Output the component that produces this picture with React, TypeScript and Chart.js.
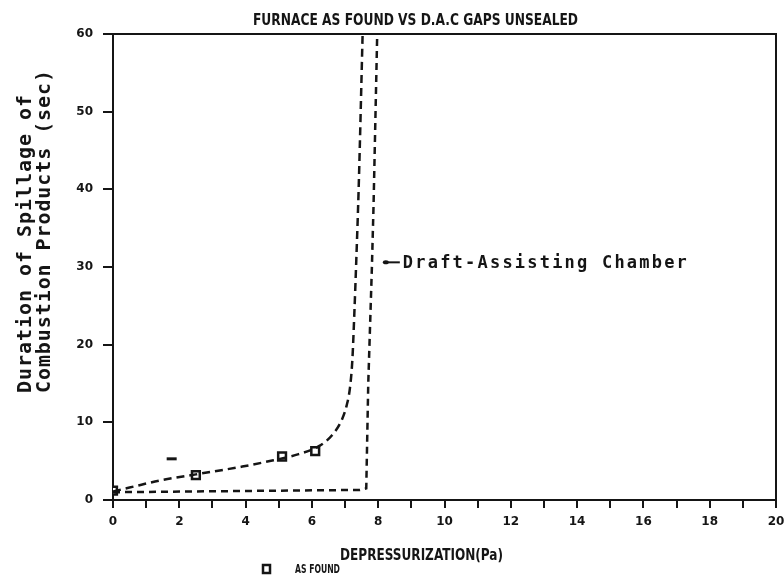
import React, { useEffect, useRef } from "react";
import { Chart, registerables } from "chart.js";

Chart.register(...registerables);

// ---- Text ----
const chartTitle = "FURNACE AS FOUND VS D.A.C GAPS UNSEALED";
const xAxisTitle = "DEPRESSURIZATION(Pa)";
const yAxisTitleLines = ["Duration of Spillage of", "Combustion Products (sec)"];
const legendLabel = "AS FOUND";
const annotationText = "Draft-Assisting Chamber";

// ---- Axes ----
const xMin = 0;
const xMax = 20;
const xStep = 1;
const xLabelEvery = 2;
const yMin = 0;
const yMax = 60;
const yStep = 10;

// ---- Data ----
// measured "as found" points
const asFoundX = [0, 2.5, 5.1, 6.1];
const asFoundY = [1.2, 3.2, 5.6, 6.3];

// dashed curve through the as-found points
const fitX = [0, 0.5, 1.4, 2.5, 3.9, 4.6, 5.6, 6.2, 6.6, 6.9, 7.05, 7.15, 7.22, 7.28, 7.34, 7.41, 7.53];
const fitY = [1.1, 1.6, 2.5, 3.3, 4.3, 4.9, 5.9, 6.9, 8.3, 10.3, 12.2, 14.5, 18, 24, 31, 40, 60];

// draft-assisting chamber (gaps unsealed) dashed line
const dacX = [0, 7.45, 7.64, 7.7, 7.81, 7.86, 7.97];
const dacY = [1.0, 1.3, 1.5, 15, 30, 38, 60];

// stray pen mark
const strayX = [1.77];
const strayY = [5.3];

// annotation anchor (data units)
const annotationX = [8.2];
const annotationY = [30.6];

const INK = "#151515";

function zip(xs: number[], ys: number[]) {
  return xs.map((x, i) => ({ x, y: ys[i] }));
}

function drawFitted(ctx: CanvasRenderingContext2D, text: string, x: number, y: number, width: number, font: string) {
  ctx.save();
  ctx.font = font;
  ctx.textAlign = "left";
  ctx.textBaseline = "alphabetic";
  const w = ctx.measureText(text).width;
  ctx.translate(x, y);
  ctx.scale(width / w, 1);
  ctx.fillText(text, 0, 0);
  ctx.restore();
}

function drawSpaced(ctx: CanvasRenderingContext2D, text: string, x: number, y: number, width: number, font: string) {
  ctx.save();
  ctx.font = font;
  ctx.textAlign = "left";
  ctx.textBaseline = "alphabetic";
  const chars = Array.from(text);
  const lastW = ctx.measureText(chars[chars.length - 1]).width;
  const adv = (width - lastW) / (chars.length - 1);
  chars.forEach((c, i) => ctx.fillText(c, x + i * adv, y));
  ctx.restore();
}

const decorPlugin = {
  id: "decor",
  afterDraw(chart: any) {
    const { ctx, chartArea, scales } = chart;
    const xs = scales.x;
    const ys = scales.y;
    ctx.save();
    ctx.strokeStyle = INK;
    ctx.fillStyle = INK;
    ctx.lineWidth = 2;
    ctx.setLineDash([]);
    // top and right frame
    ctx.beginPath();
    ctx.moveTo(chartArea.left, chartArea.top);
    ctx.lineTo(chartArea.right, chartArea.top);
    ctx.lineTo(chartArea.right, chartArea.bottom);
    ctx.stroke();

    const narrow = "'Liberation Sans Narrow', 'DejaVu Sans Condensed', sans-serif";
    // title
    drawFitted(ctx, chartTitle, 253, 25, 325, "bold 15px " + narrow);
    // x axis title
    drawFitted(ctx, xAxisTitle, 340, 560, 163, "bold 16px " + narrow);

    // legend
    ctx.lineWidth = 2.5;
    ctx.strokeRect(263, 565, 7, 8);
    drawFitted(ctx, legendLabel, 295, 573, 45, "bold 12px " + narrow);

    // y axis title (rotated)
    const yFont = "bold 20px 'DejaVu Sans Mono', 'Liberation Mono', monospace";
    const lineX = [31, 50];
    const lineW = [298, 323];
    yAxisTitleLines.forEach((t, i) => {
      ctx.save();
      ctx.translate(lineX[i], 393);
      ctx.rotate(-Math.PI / 2);
      drawSpaced(ctx, t, 0, 0, lineW[i], yFont);
      ctx.restore();
    });

    // annotation
    annotationX.forEach((ax, i) => {
      const px = xs.getPixelForValue(ax);
      const py = ys.getPixelForValue(annotationY[i]);
      ctx.beginPath();
      ctx.ellipse(px + 1, py, 3, 2, 0, 0, Math.PI * 2);
      ctx.fill();
      ctx.lineWidth = 2;
      ctx.beginPath();
      ctx.moveTo(px, py);
      ctx.lineTo(px + 15, py);
      ctx.stroke();
      drawSpaced(ctx, annotationText, px + 18, py + 6, 284, "bold 17px 'DejaVu Sans Mono', 'Liberation Mono', monospace");
    });
    ctx.restore();
  },
};

export default function App() {
  const ref = useRef<HTMLCanvasElement | null>(null);

  useEffect(() => {
    const canvas = ref.current;
    if (!canvas) return;
    const chart = new Chart(canvas, {
      type: "scatter",
      data: {
        datasets: [
          {
            label: "fit",
            data: zip(fitX, fitY),
            showLine: true,
            borderColor: INK,
            borderWidth: 2.5,
            borderDash: [8, 5],
            pointRadius: 0,
            cubicInterpolationMode: "monotone",
            fill: false,
          },
          {
            label: "dac",
            data: zip(dacX, dacY),
            showLine: true,
            borderColor: INK,
            borderWidth: 2.5,
            borderDash: [7, 5],
            pointRadius: 0,
            tension: 0,
            fill: false,
          },
          {
            label: legendLabel,
            data: zip(asFoundX, asFoundY),
            showLine: false,
            pointStyle: "rect",
            pointRadius: 5.5,
            pointBorderWidth: 2.5,
            pointBorderColor: INK,
            pointBackgroundColor: "#ffffff",
          },
          {
            label: "stray",
            data: zip(strayX, strayY),
            showLine: false,
            pointStyle: "line",
            pointRadius: 5,
            pointBorderWidth: 3,
            pointBorderColor: INK,
          },
        ],
      } as any,
      options: {
        animation: false,
        responsive: false,
        maintainAspectRatio: false,
        devicePixelRatio: 1,
        layout: { padding: { left: 0, top: 34, right: 7, bottom: 0 } },
        plugins: {
          legend: { display: false },
          tooltip: { enabled: false },
          title: { display: false },
        },
        scales: {
          x: {
            type: "linear",
            min: xMin,
            max: xMax,
            afterFit: (s: any) => {
              s.height = 78;
              s.paddingLeft = 0;
              s.paddingRight = 0;
            },
            ticks: {
              stepSize: xStep,
              autoSkip: false,
              maxRotation: 0,
              padding: 7,
              color: INK,
              font: { family: "'DejaVu Sans', sans-serif", size: 12, weight: "bold" },
              callback: (v: any) => (Number(v) % xLabelEvery === 0 ? String(v) : ""),
            },
            grid: {
              display: true,
              drawOnChartArea: false,
              drawTicks: true,
              tickLength: 8,
              color: INK,
              lineWidth: 2,
            },
            border: { display: true, color: INK, width: 2 },
          },
          y: {
            type: "linear",
            min: yMin,
            max: yMax,
            afterFit: (s: any) => {
              s.width = 113;
              s.paddingTop = 0;
              s.paddingBottom = 0;
            },
            ticks: {
              stepSize: yStep,
              padding: 10,
              color: INK,
              font: { family: "'DejaVu Sans', sans-serif", size: 12, weight: "bold" },
            },
            grid: {
              display: true,
              drawOnChartArea: false,
              drawTicks: true,
              tickLength: 10,
              color: INK,
              lineWidth: 2,
            },
            border: { display: true, color: INK, width: 2 },
          },
        },
      } as any,
      plugins: [decorPlugin],
    });
    return () => chart.destroy();
  }, []);

  return (
    <div style={{ position: "fixed", left: 0, top: 0, width: 784, height: 578, background: "#fff" }}>
      <canvas ref={ref} width={784} height={578} style={{ width: 784, height: 578, display: "block" }} />
    </div>
  );
}
